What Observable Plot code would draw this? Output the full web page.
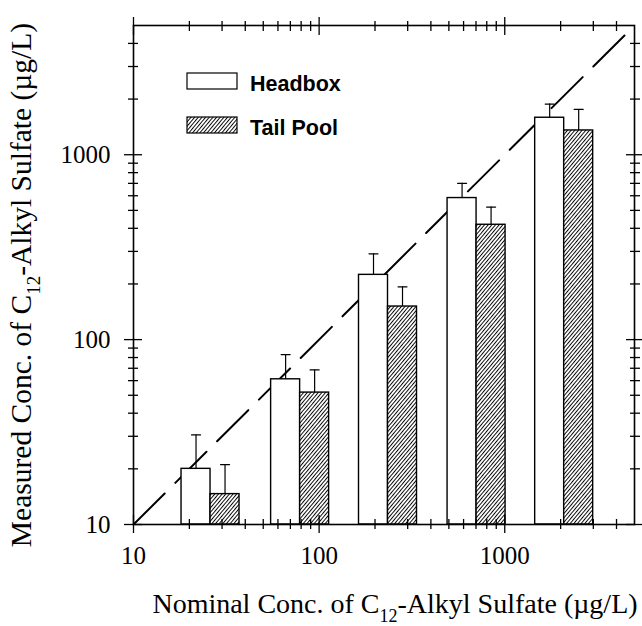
<!DOCTYPE html>
<html><head><meta charset="utf-8">
<script src="https://cdn.jsdelivr.net/npm/d3@7"></script>
<script src="https://cdn.jsdelivr.net/npm/@observablehq/plot@0.6"></script>
<style>html,body{margin:0;padding:0;background:#fff} #chart svg{display:block}</style>
</head><body><div id="chart"></div>
<script>
// ---- data ----
const nominal       = [26, 79, 235, 705, 2090];      // group centres (µg/L)
const headbox       = [20, 61, 224, 583, 1585];      // measured, headbox
const headboxUpper  = [30.5, 83, 291, 700, 1880];    // top of error bar
const tailPool      = [14.6, 51.7, 151, 418, 1353];  // measured, tail pool
const tailPoolUpper = [21.1, 68.6, 193, 521, 1758];  // top of error bar
const majorTicks = [10, 100, 1000];
const minorTicks = [20,30,40,50,60,70,80,90,200,300,400,500,600,700,800,900,2000,3000,4000];
const seriesNames = ["Headbox", "Tail Pool"];
const axisDomain = [10, 5000];
const xTitle = ["Nominal Conc. of C", "12", "-Alkyl Sulfate (\u00b5g/L)"];
const yTitle = ["Measured Conc. of C", "12", "-Alkyl Sulfate (\u00b5g/L)"];

const barRatio = 1.433; // bar width as a multiplicative factor on the log axis

const bars = [];
nominal.forEach((c, i) => {
  bars.push({series: seriesNames[0], x1: c / barRatio, x2: c, value: headbox[i], upper: headboxUpper[i]});
  bars.push({series: seriesNames[1], x1: c, x2: c * barRatio, value: tailPool[i], upper: tailPoolUpper[i]});
});
bars.forEach(d => d.xc = Math.sqrt(d.x1 * d.x2));
const identity = axisDomain.map(v => ({x: v, y: v}));

const capShape = {draw(ctx, l) { ctx.moveTo(-l / 2, 0); ctx.lineTo(l / 2, 0); }};
const fmt = d => String(d);

const tickOpts = (anchor, size) => {
  const o = {anchor, tickSize: size, fill: "none", label: null, stroke: "black", strokeWidth: 1.3};
  if (anchor === "bottom") o.dy = -size / 2;
  if (anchor === "top") o.dy = size / 2;
  if (anchor === "left") o.dx = size / 2;
  if (anchor === "right") o.dx = -size / 2;
  return o;
};

const plot = Plot.plot({
  width: 642, height: 626,
  marginLeft: 133, marginRight: 8, marginTop: 25, marginBottom: 102,
  style: {fontFamily: "'Liberation Serif','Times New Roman',serif", fontSize: "25px", color: "black", background: "white"},
  x: {type: "log", domain: axisDomain},
  y: {type: "log", domain: axisDomain},
  marks: [
    Plot.line(identity, {x: "x", y: "y", stroke: "black", strokeWidth: 2, strokeDasharray: "44,15"}),
    Plot.rect(bars.filter(d => d.series === seriesNames[0]), {x1: "x1", x2: "x2", y1: axisDomain[0], y2: "value", fill: "white", stroke: "black", strokeWidth: 1.4}),
    Plot.rect(bars.filter(d => d.series === seriesNames[1]), {x1: "x1", x2: "x2", y1: axisDomain[0], y2: "value", fill: "url(#hatch)", stroke: "black", strokeWidth: 1.4}),
    Plot.ruleX(bars, {x: "xc", y1: "value", y2: "upper", stroke: "black", strokeWidth: 1.2}),
    Plot.vector(bars, {x: "xc", y: "upper", length: 9, shape: capShape, anchor: "start", stroke: "black", strokeWidth: 1.2}),
    Plot.axisX(majorTicks, tickOpts("bottom", 18)),
    Plot.axisX(minorTicks, tickOpts("bottom", 10)),
    Plot.axisX(majorTicks, tickOpts("top", 18)),
    Plot.axisX(minorTicks, tickOpts("top", 10)),
    Plot.axisY(majorTicks, tickOpts("left", 18)),
    Plot.axisY(minorTicks, tickOpts("left", 10)),
    Plot.axisY(majorTicks, tickOpts("right", 18)),
    Plot.axisY(minorTicks, tickOpts("right", 10)),
    Plot.axisX(majorTicks, {anchor: "bottom", tickSize: 0, tickPadding: 22, tickFormat: fmt, label: null, fill: "black"}),
    Plot.axisY(majorTicks, {anchor: "left", tickSize: 0, tickPadding: 23, tickFormat: fmt, label: null, fill: "black"}),
    Plot.frame({stroke: "black", strokeWidth: 1.6})
  ]
});

const svg = d3.select(plot);
const defs = svg.insert("defs", ":first-child");
const pat = defs.append("pattern").attr("id", "hatch").attr("patternUnits", "userSpaceOnUse")
  .attr("width", 2.8).attr("height", 10).attr("patternTransform", "rotate(40)");
pat.append("rect").attr("width", 2.8).attr("height", 10).attr("fill", "white");
pat.append("line").attr("x1", 0.5).attr("y1", 0).attr("x2", 0.5).attr("y2", 10).attr("stroke", "black").attr("stroke-width", 0.95);

// legend
const legend = svg.append("g")
  .style("font-family", "'Liberation Sans',Arial,sans-serif").style("font-weight", "bold").style("font-size", "21.5px")
  .attr("text-anchor", "start");
seriesNames.forEach((name, i) => {
  const y0 = 73 + i * 44;
  legend.append("rect").attr("x", 187).attr("y", y0).attr("width", 50).attr("height", 16)
    .attr("fill", i === 0 ? "white" : "url(#hatch)").attr("stroke", "black").attr("stroke-width", 1.2);
  legend.append("text").attr("x", 250).attr("y", y0 + 18).attr("text-anchor", "start").text(name);
});

// axis titles with subscripts
function title(parts, size, attrs) {
  const t = svg.append("text")
    .style("font-family", "'Liberation Serif','Times New Roman',serif").style("font-size", size + "px").attr("fill", "black");
  Object.entries(attrs).forEach(([k, v]) => t.attr(k, v));
  t.append("tspan").text(parts[0]);
  t.append("tspan").style("font-size", Math.round(size * 0.64) + "px").attr("dy", 9).text(parts[1]);
  t.append("tspan").attr("dy", -9).text(parts[2]);
  return t;
}
title(xTitle, 28, {x: 395, y: 613, "text-anchor": "middle"});
title(yTitle, 29.5, {transform: "translate(31,285) rotate(-90)", x: 0, y: 0, "text-anchor": "middle"});

document.getElementById("chart").appendChild(plot);
</script>
</body></html>
